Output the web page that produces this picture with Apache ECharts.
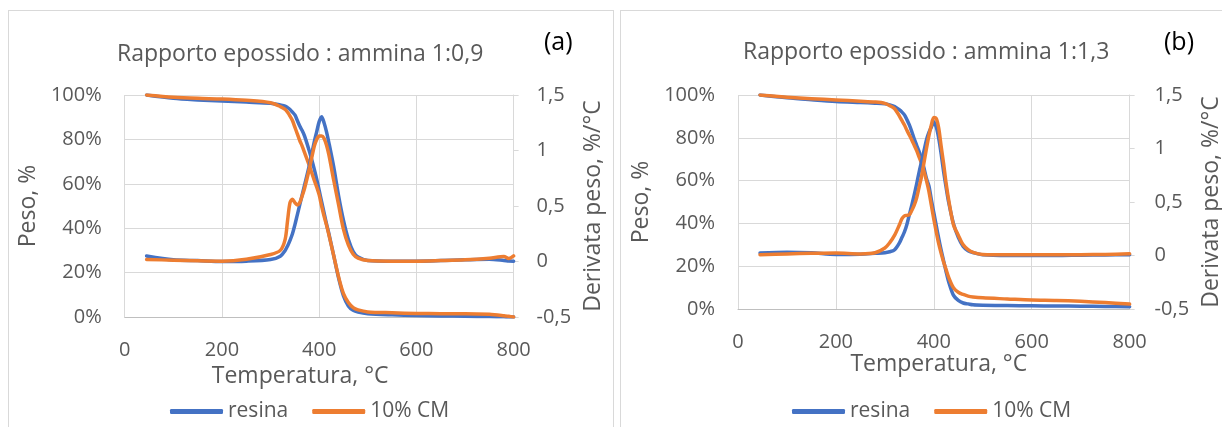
<!DOCTYPE html>
<html>
<head>
<meta charset="utf-8">
<script src="https://cdn.jsdelivr.net/npm/echarts@6/dist/echarts.min.js"></script>
<style>
  html, body { margin: 0; padding: 0; background: #fff; width: 1222px; height: 427px; overflow: hidden; }
  .panel { position: absolute; top: 10px; height: 430px; border: 1px solid #d9d9d9; box-sizing: border-box; }
  .chart { width: 100%; height: 100%; }
</style>
</head>
<body>
<div class="panel" style="left:8px;width:606px;"><div id="chartA" class="chart"></div></div>
<div class="panel" style="left:620px;width:612px;"><div id="chartB" class="chart"></div></div>
<script>
// temperature grid, °C
const tempA = [45, 100, 150, 200, 250, 300, 320, 330, 335, 340, 345, 350, 355, 360, 365, 370, 380, 390, 395, 400, 405, 410, 415, 420, 430, 440, 450, 460, 470, 480, 500, 550, 600, 650, 700, 750, 780, 790, 800]
// peso, %
const resinaPesoA = [100, 98.5, 97.8, 97.3, 96.8, 96.3, 95.5, 95, 94.3, 93.5, 92.3, 91, 88.5, 86, 84, 81.5, 74.5, 66.5, 62, 57, 52, 47, 42, 37.5, 27.5, 17.5, 9.5, 5, 3, 2.2, 1.5, 1, 0.7, 0.5, 0.3, 0.2, 0.1, 0, 0]
const cmPesoA = [100, 99, 98.5, 98.2, 97.6, 96.5, 94.8, 93.5, 92.2, 90.5, 88.5, 85.5, 82.5, 79.5, 77, 74, 68, 61.5, 58.5, 55, 50, 45.5, 41.5, 37, 27.5, 18, 10.5, 6.5, 4.2, 3.2, 2.3, 1.9, 1.6, 1.5, 1.5, 1.2, 0.6, 0.3, 0]
// derivata peso, %/°C
const resinaDerA = [0.05, 0.015, 0.008, 0, 0.003, 0.018, 0.048, 0.1, 0.14, 0.19, 0.25, 0.33, 0.42, 0.51, 0.6, 0.69, 0.87, 1.08, 1.17, 1.26, 1.305, 1.25, 1.17, 1.07, 0.85, 0.59, 0.37, 0.2, 0.09, 0.04, 0.01, 0.003, 0.003, 0.008, 0.015, 0.02, 0.01, 0.005, 0.003]
const cmDerA = [0.018, 0.012, 0.006, 0.003, 0.02, 0.063, 0.1, 0.2, 0.37, 0.53, 0.56, 0.53, 0.51, 0.53, 0.59, 0.66, 0.84, 1.04, 1.1, 1.13, 1.13, 1.11, 1.05, 0.96, 0.73, 0.51, 0.29, 0.15, 0.065, 0.03, 0.008, 0.003, 0.003, 0.008, 0.015, 0.03, 0.045, 0.027, 0.05]

const tempB = [45, 100, 150, 200, 250, 280, 300, 310, 320, 330, 335, 340, 345, 350, 355, 360, 365, 370, 375, 380, 385, 390, 395, 400, 405, 410, 415, 420, 425, 430, 440, 450, 460, 470, 480, 500, 550, 600, 650, 700, 750, 800]
const resinaPesoB = [100, 98.7, 97.8, 97, 96.5, 96.2, 95.9, 95.4, 94.6, 93, 92, 90.7, 88.5, 86, 82.9, 79.5, 76.5, 73.6, 70, 65.8, 61, 57.5, 51, 45, 39, 33, 27.5, 22.5, 17.5, 13, 6.5, 4, 2.8, 2.4, 2, 1.8, 1.6, 1.5, 1.4, 1.3, 1.2, 1.1]
const cmPesoB = [100, 99, 98.3, 97.7, 97.1, 96.7, 96.1, 95, 93.6, 90, 88, 86, 83.5, 81.3, 79, 76.5, 74, 71, 68, 64.2, 60, 55, 48.5, 42, 36, 30.5, 26, 22, 18.5, 15, 10, 7.8, 6.8, 6, 5.6, 5.2, 4.7, 4.2, 4, 3.6, 3, 2.3]
const resinaDerB = [0.023, 0.03, 0.025, 0.01, 0.012, 0.02, 0.026, 0.035, 0.054, 0.12, 0.17, 0.22, 0.29, 0.38, 0.47, 0.567, 0.67, 0.78, 0.88, 0.98, 1.08, 1.15, 1.2, 1.25, 1.2, 1.096, 0.95, 0.785, 0.64, 0.505, 0.3, 0.17, 0.085, 0.045, 0.028, 0.007, 0, 0, 0, 0.003, 0.005, 0.007]
const cmDerB = [0.007, 0.015, 0.02, 0.023, 0.015, 0.025, 0.07, 0.12, 0.19, 0.29, 0.345, 0.37, 0.375, 0.38, 0.42, 0.47, 0.54, 0.64, 0.74, 0.87, 1.0, 1.12, 1.22, 1.29, 1.28, 1.19, 1.02, 0.86, 0.68, 0.53, 0.29, 0.19, 0.1, 0.055, 0.03, 0.01, 0.007, 0.007, 0.007, 0.008, 0.01, 0.016]

const FONT = '"Open Sans", "DejaVu Sans", sans-serif'
const TXT = '#595959'
const BLUE = '#4472c4'
const ORANGE = '#ed7d31'

function pairs (xs, ys) {
  return xs.map((x, i) => [x, ys[i]])
}

function line (name, color, yIndex, data) {
  return {
    name: name,
    type: 'line',
    yAxisIndex: yIndex,
    data: data,
    symbol: 'none',
    smooth: 0.3,
    color: color,
    lineStyle: { color: color, width: 3.5, cap: 'round', join: 'round' },
    z: 2
  }
}

function makeOption (p) {
  return {
    animation: false,
    textStyle: { fontFamily: FONT, color: TXT },
    title: [
      { text: p.title, left: p.titleLeft, top: p.titleTop, padding: 0,
        textStyle: { fontFamily: FONT, fontSize: 23, fontWeight: 'normal', color: TXT } },
      { text: p.tag, left: p.tagLeft, top: 19, padding: 0,
        textStyle: { fontFamily: FONT, fontSize: 25, fontWeight: 'normal', color: '#000' } }
    ],
    grid: { left: p.gridLeft, top: 84, width: p.gridWidth, height: p.gridHeight },
    legend: {
      left: p.legendLeft,
      top: 390,
      padding: 0,
      icon: 'roundRect',
      itemWidth: 53,
      itemHeight: 5,
      itemGap: 24,
      textStyle: { fontFamily: FONT, fontSize: 21, color: TXT },
      data: ['resina', '10% CM']
    },
    xAxis: {
      type: 'value',
      min: 0,
      max: 800,
      interval: 200,
      name: 'Temperatura, °C',
      nameLocation: 'middle',
      nameGap: p.xNameGap,
      nameTextStyle: { fontFamily: FONT, fontSize: 23, color: TXT, padding: p.xNamePad },
      axisLine: { show: true, lineStyle: { color: '#bfbfbf', width: 1 } },
      axisTick: { show: false },
      axisLabel: { margin: 23, fontSize: 20, color: TXT, fontFamily: FONT },
      splitLine: { show: true, lineStyle: { color: '#d9d9d9', width: 1 } }
    },
    yAxis: [
      {
        type: 'value',
        min: 0,
        max: 100,
        interval: 20,
        name: 'Peso, %',
        nameLocation: 'middle',
        nameRotate: 90,
        nameGap: p.yNameGap,
        nameTextStyle: { fontFamily: FONT, fontSize: 23, color: TXT },
        axisLine: { show: false },
        axisTick: { show: false },
        axisLabel: { margin: 23, fontSize: 20, color: TXT, fontFamily: FONT, formatter: '{value}%' },
        splitLine: { show: true, lineStyle: { color: '#d9d9d9', width: 1 } }
      },
      {
        type: 'value',
        position: 'right',
        min: -0.5,
        max: 1.5,
        interval: 0.5,
        name: 'Derivata peso, %/°C',
        nameLocation: 'middle',
        nameRotate: 90,
        nameGap: p.y2NameGap,
        nameTextStyle: { fontFamily: FONT, fontSize: 23, color: TXT },
        axisLine: { show: true, lineStyle: { color: '#d9d9d9', width: 1 } },
        axisTick: { show: true, length: 5, lineStyle: { color: '#d9d9d9' } },
        axisLabel: { margin: p.y2Margin, fontSize: 20, color: TXT, fontFamily: FONT,
          formatter: v => String(v).replace('.', ',') },
        splitLine: { show: false }
      }
    ],
    series: [
      line('resina', BLUE, 0, pairs(p.temp, p.resinaPeso)),
      line('10% CM', ORANGE, 0, pairs(p.temp, p.cmPeso)),
      line('resina', BLUE, 1, pairs(p.temp, p.resinaDer)),
      line('10% CM', ORANGE, 1, pairs(p.temp, p.cmDer))
    ]
  }
}

const chartA = echarts.init(document.getElementById('chartA'))
chartA.setOption(makeOption({
  title: 'Rapporto epossido : ammina 1:0,9',
  titleLeft: 108,
  titleTop: 32,
  tag: '(a)',
  tagLeft: 535,
  gridLeft: 113,
  gridWidth: 400,
  gridHeight: 222,
  legendLeft: 161,
  xNameGap: 41,
  xNamePad: [0, 38, 0, 0],
  yNameGap: 67,
  y2NameGap: 61,
  y2Margin: 23,
  temp: tempA,
  resinaPeso: resinaPesoA,
  cmPeso: cmPesoA,
  resinaDer: resinaDerA,
  cmDer: cmDerA
}))

const chartB = echarts.init(document.getElementById('chartB'))
chartB.setOption(makeOption({
  title: 'Rapporto epossido : ammina 1:1,3',
  titleLeft: 122,
  titleTop: 30,
  tag: '(b)',
  tagLeft: 543,
  gridLeft: 117,
  gridWidth: 401,
  gridHeight: 214,
  legendLeft: 171,
  xNameGap: 44,
  xNamePad: [0, 0, 0, 10],
  yNameGap: 73,
  y2NameGap: 50,
  y2Margin: 25,
  temp: tempB,
  resinaPeso: resinaPesoB,
  cmPeso: cmPesoB,
  resinaDer: resinaDerB,
  cmDer: cmDerB
}))
</script>
</body>
</html>
